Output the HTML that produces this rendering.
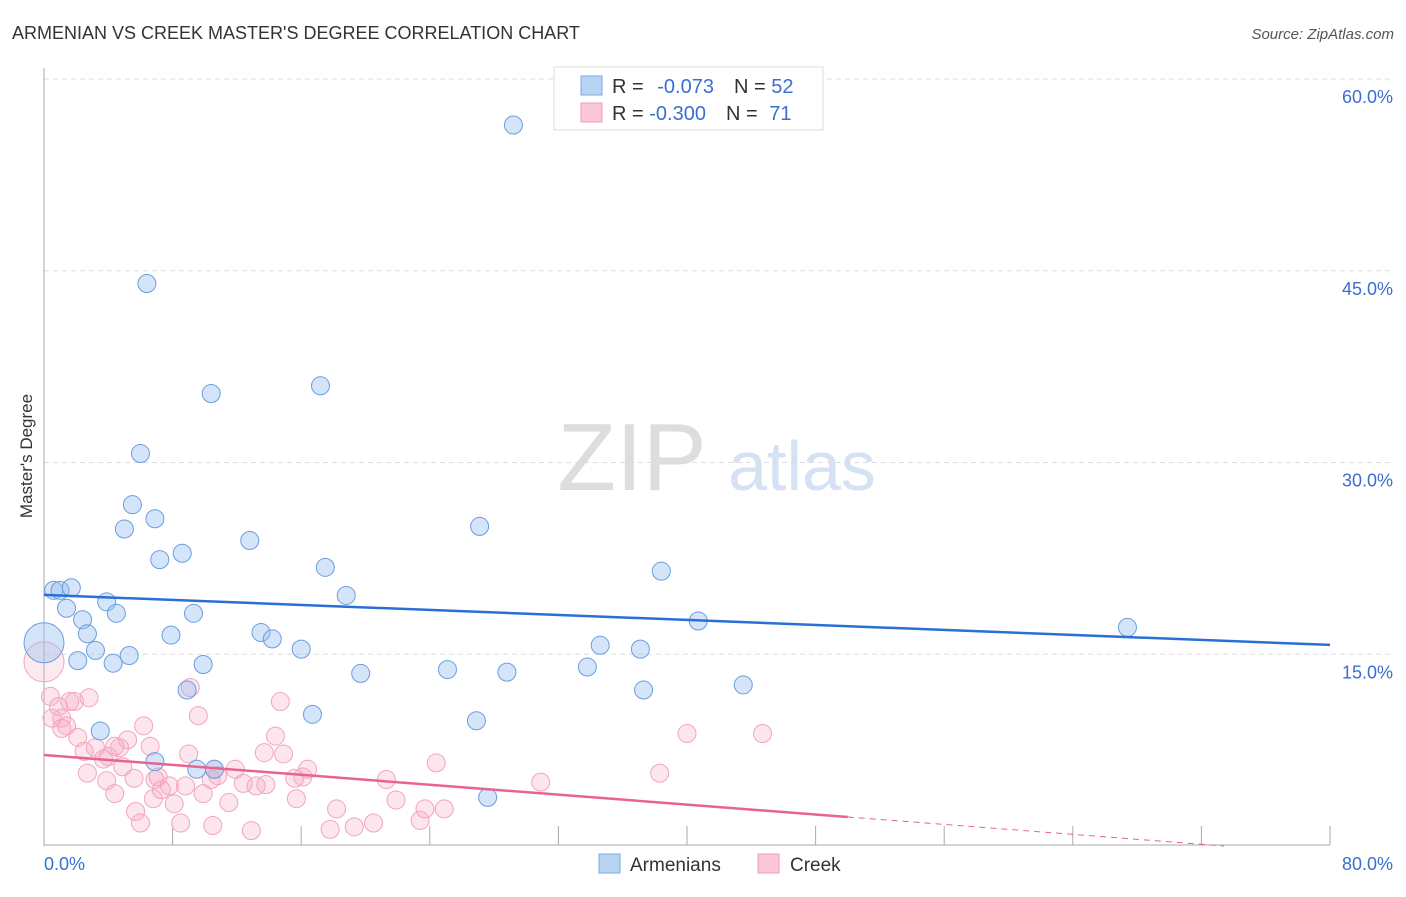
<!DOCTYPE html>
<html><head><meta charset="utf-8"><style>
body{margin:0;background:#fff;font-family:"Liberation Sans",sans-serif;}
svg text{font-family:"Liberation Sans",sans-serif;}
</style></head><body>
<svg id="c" width="1406" height="892">
<text x="12" y="39" font-size="18" fill="#333">ARMENIAN VS CREEK MASTER'S DEGREE CORRELATION CHART</text>
<text x="1394" y="39" font-size="15" fill="#555" font-style="italic" text-anchor="end">Source: ZipAtlas.com</text>
<text x="32" y="456" font-size="17" fill="#333" text-anchor="middle" transform="rotate(-90 32 456)">Master's Degree</text>
<g>
<text x="632" y="490" font-size="96" fill="#ddd" font-family="Liberation Serif" text-anchor="middle">ZIP</text>
<text x="802" y="490" font-size="70" fill="#d4e2f4" text-anchor="middle">atlas</text>
</g>
<g id="grid"></g><g id="marks"></g><g id="lines"></g>
<g>
<rect x="554" y="67" width="269" height="63" fill="#fff" stroke="#ddd"/>
<rect x="581" y="76" width="21" height="19" fill="#b9d3f5" stroke="#7aa8e8"/>
<rect x="581" y="103" width="21" height="19" fill="#fcc8d7" stroke="#f09ab4"/>
<text x="612" y="93" font-size="20" fill="#333">R = <tspan fill="#3a6fd0" dx="8">-0.073</tspan><tspan dx="20" fill="#333">N = </tspan><tspan fill="#3a6fd0">52</tspan></text>
<text x="612" y="120" font-size="20" fill="#333">R = <tspan fill="#3a6fd0">-0.300</tspan><tspan dx="20" fill="#333">N = </tspan><tspan fill="#3a6fd0" dx="6">71</tspan></text>
</g>
<g>
<rect x="599" y="854" width="21" height="19" fill="#b9d3f5" stroke="#7aa8e8"/>
<text x="630" y="871" font-size="19" fill="#333">Armenians</text>
<rect x="758" y="854" width="21" height="19" fill="#fcc8d7" stroke="#f09ab4"/>
<text x="790" y="871" font-size="19" fill="#333">Creek</text>
</g>
</svg>
<script>
const yTicks=[15,30,45,60];
const xTickLabels=["0.0%","80.0%"];
const blueX=[0.6,1.0,1.7,1.4,2.4,3.9,2.7,4.5,3.2,2.1,4.3,5.3,0,3.5,6.9,9.5,10.6,8.9,9.9,7.9,9.3,8.6,7.2,5.0,5.5,6.9,6.0,6.4,10.4,17.2,12.8,13.5,14.2,16.0,16.7,17.5,18.8,19.7,25.1,27.1,26.9,27.6,28.8,29.2,33.8,34.6,37.1,37.3,38.4,40.7,43.5,67.4];
const blueY=[20.0,20.0,20.2,18.6,17.7,19.1,16.6,18.2,15.3,14.5,14.3,14.9,15.9,9.0,6.6,6.0,6.0,12.2,14.2,16.5,18.2,22.9,22.4,24.8,26.7,25.6,30.7,44.0,35.4,36.0,23.9,16.7,16.2,15.4,10.3,21.8,19.6,13.5,13.8,25.0,9.8,3.8,13.6,56.4,14.0,15.7,15.4,12.2,21.5,17.6,12.6,17.1];
const pinkX=[0,0.4,0.9,1.6,1.9,1.1,0.5,1.4,2.1,1.1,2.8,2.7,2.5,3.2,3.7,4.0,4.7,5.2,4.9,3.9,4.4,5.6,5.7,6.0,6.2,6.9,6.8,7.1,7.3,7.8,8.1,8.5,8.8,9.0,9.1,9.6,9.9,10.4,10.5,10.6,10.8,11.5,12.4,12.9,13.2,13.8,14.4,14.7,14.9,15.6,15.7,16.1,16.4,17.8,18.2,19.3,20.5,21.3,21.9,23.4,23.7,24.4,24.9,30.9,38.3,40.0,44.7,4.4,6.6,11.9,13.7];
const pinkY=[14.4,11.7,10.9,11.3,11.3,10.0,10.0,9.4,8.5,9.2,11.6,5.7,7.4,7.7,6.8,7.0,7.7,8.3,6.2,5.1,4.1,5.3,2.7,1.8,9.4,5.2,3.7,5.4,4.4,4.7,3.3,1.8,4.7,7.2,12.4,10.2,4.1,5.2,1.6,6.0,5.5,3.4,4.9,1.2,4.7,4.8,8.6,11.3,7.2,5.3,3.7,5.4,6.0,1.3,2.9,1.5,1.8,5.2,3.6,2.0,2.9,6.5,2.9,5.0,5.7,8.8,8.8,7.8,7.8,6.0,7.3];
const blueReg=[19.64,15.73];
const pinkReg=[7.12,2.27];
const NS="http://www.w3.org/2000/svg";
const X=v=>44+v/80*1286, Y=v=>846-v/15*191.75;
function mk(t,a,p){const e=document.createElementNS(NS,t);for(const k in a)e.setAttribute(k,a[k]);p.appendChild(e);return e;}
const g=document.getElementById('grid');
yTicks.forEach(t=>{const l=mk('line',{x1:44,x2:1394,y1:Y(t),y2:Y(t),stroke:'#ddd','stroke-dasharray':'5,4'},g);


const tx=mk('text',{x:1393,y:Y(t)+24,'font-size':18,fill:'#3a6fd0','text-anchor':'end'},g);tx.textContent=t.toFixed(1)+'%';

});
const ax=mk('line',{x1:44,x2:44,y1:68,y2:846,stroke:'#aaa'},g);


const bx=mk('line',{x1:44,x2:1330,y1:845,y2:845,stroke:'#aaa'},g);


for(let i=1;i<=10;i++){const t=mk('line',{x1:X(i*8),x2:X(i*8),y1:826,y2:845,stroke:'#aaa'},g);

}
xTickLabels.forEach((s,i)=>{const t=mk('text',{x:i?1393:44,y:870,'font-size':18,fill:'#3a6fd0','text-anchor':i?'end':'start'},g);t.textContent=s;

});
const m=document.getElementById('marks');
pinkX.forEach((x,i)=>{const c=mk('circle',{cx:X(x),cy:Y(pinkY[i]),r:i==0?20:9,fill:i==0?'rgba(248,170,195,0.25)':'rgba(248,170,195,0.3)',stroke:'#f2a5bd','stroke-width':1},m);

});
blueX.forEach((x,i)=>{const c=mk('circle',{cx:X(x),cy:Y(blueY[i]),r:i==12?20:9,fill:i==12?'rgba(150,190,240,0.4)':'rgba(150,190,240,0.4)',stroke:'#6a9de0','stroke-width':1},m);

});
const L=document.getElementById('lines');
const b=mk('line',{x1:X(0),y1:Y(blueReg[0]),x2:X(80),y2:Y(blueReg[1]),stroke:'#2a6fd6','stroke-width':2.5},L);


const p=mk('line',{x1:X(0),y1:Y(pinkReg[0]),x2:X(50),y2:Y(pinkReg[1]),stroke:'#e8638e','stroke-width':2.5},L);


const slope=(pinkReg[1]-pinkReg[0])/50, xe=Math.min(80,-pinkReg[0]/slope);
const pd=mk('line',{x1:X(50),y1:Y(pinkReg[1]),x2:X(xe),y2:Y(pinkReg[0]+slope*xe),stroke:'#e8638e','stroke-width':1,'stroke-dasharray':'6,5'},L);


</script>
</body></html>
